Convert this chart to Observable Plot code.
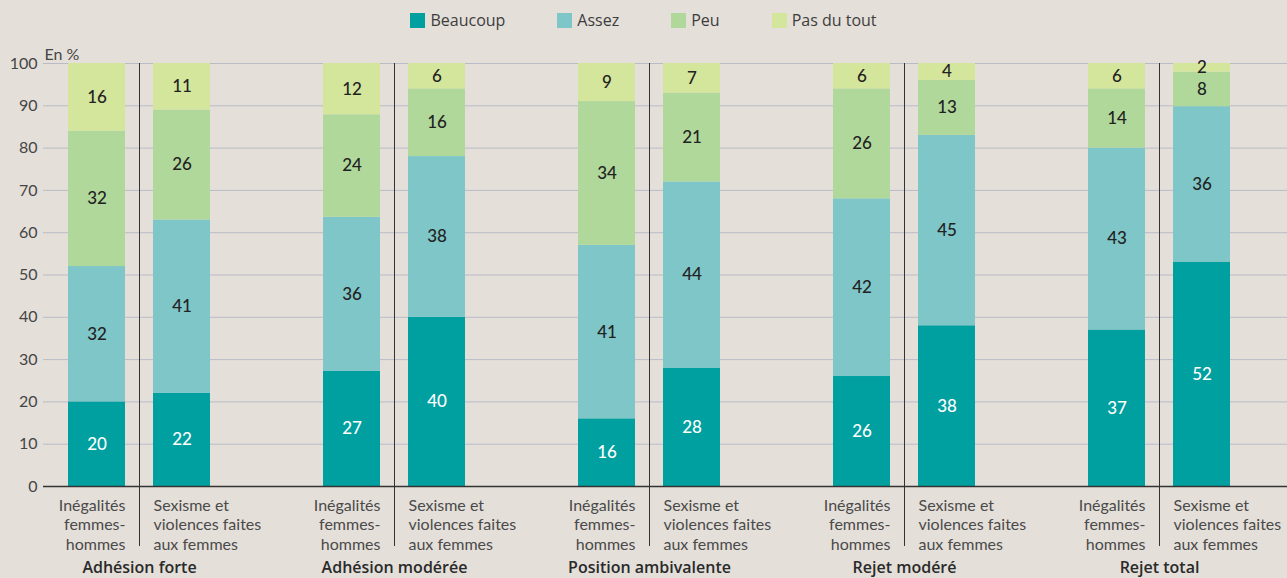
<!DOCTYPE html>
<html><head><meta charset="utf-8">
<script src="https://cdn.jsdelivr.net/npm/d3@7"></script>
<script src="https://cdn.jsdelivr.net/npm/@observablehq/plot@0.6"></script>
<style>
body{margin:0;background:#e4dfd9;font-family:Lato, "Noto Sans", sans-serif;}
#legend{height:40px;display:flex;justify-content:center;align-items:center;gap:52px;font-size:16px;color:#3d3d3d;font-family:"Open Sans", Lato, sans-serif;}
.item{display:flex;align-items:center;gap:5px}
.sw{width:15px;height:15px;display:inline-block}
</style></head><body>
<div id="legend"></div>
<div id="chart"></div>
<script>
const groups = ["Adhésion forte", "Adhésion modérée", "Position ambivalente", "Rejet modéré", "Rejet total"];
const subjects = ["Inégalités\nfemmes-\nhommes", "Sexisme et\nviolences faites\naux femmes"];
const responses = ["Beaucoup", "Assez", "Peu", "Pas du tout"];
const colors = ["#00a0a0", "#7ec6c8", "#b1d89b", "#d4e59c"];
const yTickValues = [0, 10, 20, 30, 40, 50, 60, 70, 80, 90, 100];

const inegalitesBeaucoup  = [20, 27, 16, 26, 37];
const inegalitesAssez     = [32, 36, 41, 42, 43];
const inegalitesPeu       = [32, 24, 34, 26, 14];
const inegalitesPasDuTout = [16, 12, 9, 6, 6];
const sexismeBeaucoup     = [22, 40, 28, 38, 52];
const sexismeAssez        = [41, 38, 44, 45, 36];
const sexismePeu          = [26, 16, 21, 13, 8];
const sexismePasDuTout    = [11, 6, 7, 4, 2];

const series = [
  [inegalitesBeaucoup, inegalitesAssez, inegalitesPeu, inegalitesPasDuTout],
  [sexismeBeaucoup, sexismeAssez, sexismePeu, sexismePasDuTout]
];

const keyOf = (g, s) => g + "|" + s;
const rows = [];
groups.forEach((g, gi) => {
  series.forEach((resp, si) => {
    resp.forEach((arr, ri) => {
      rows.push({key: keyOf(g, si), group: g, subject: si, response: responses[ri], value: arr[gi]});
    });
  });
});
// x domain: two bars per group, plus an empty slot between groups
const xDomain = groups.flatMap((g, i) => i < groups.length - 1 ? [keyOf(g, 0), keyOf(g, 1), keyOf(g, "gap")] : [keyOf(g, 0), keyOf(g, 1)]);

// Legend
const legend = document.getElementById("legend");
responses.forEach((r, i) => {
  const it = document.createElement("div");
  it.className = "item";
  it.innerHTML = `<span class="sw" style="background:${colors[i]}"></span><span>${r}</span>`;
  legend.appendChild(it);
});

const yTicks = yTickValues.map(v => v / 100);
const stackOpts = {x: "key", y: "value", z: "response", offset: "normalize", order: responses};

const chart = Plot.plot({
  width: 1287,
  height: 538,
  marginLeft: 43,
  marginRight: 0,
  marginTop: 23,
  marginBottom: 92,
  style: {background: "transparent", fontFamily: "Lato, 'Noto Sans', sans-serif", fontSize: "16px", color: "#454545", overflow: "visible"},
  x: {domain: xDomain, paddingInner: 0.33, paddingOuter: 0.48, align: 0.3, axis: null},
  y: {domain: [0, 1], ticks: yTicks, tickFormat: d => Math.round(d * 100), tickSize: 0, tickPadding: 6, label: null},
  color: {domain: responses, range: colors},
  marks: [
    Plot.ruleY(yTicks.filter(t => t > 0), {stroke: "#b9bcc7", strokeWidth: 1}),
    Plot.barY(rows, Plot.stackY({...stackOpts, fill: "response"})),
    Plot.text(rows, Plot.stackY({...stackOpts, text: d => d.response === "Beaucoup" ? String(d.value) : "", fill: "white", fontSize: 17, fontWeight: 500})),
    Plot.text(rows, Plot.stackY({...stackOpts, text: d => d.response !== "Beaucoup" ? String(d.value) : "", fill: "#222", fontSize: 17, fontWeight: 500})),
    Plot.ruleX(groups, {x: g => keyOf(g, 1), dx: -42.5, stroke: "#333", strokeWidth: 1, insetBottom: -60}),
    Plot.ruleY([0], {stroke: "#333", strokeWidth: 1.5}),
    Plot.text(groups, {x: g => keyOf(g, 0), frameAnchor: "bottom", text: () => subjects[0], textAnchor: "end", lineAnchor: "top", dx: 28.5, dy: 11, lineHeight: 1.2, fill: "#4a4a4a", fontSize: 16}),
    Plot.text(groups, {x: g => keyOf(g, 1), frameAnchor: "bottom", text: () => subjects[1], textAnchor: "start", lineAnchor: "top", dx: -28.5, dy: 11, lineHeight: 1.2, fill: "#4a4a4a", fontSize: 16}),
    Plot.text(groups, {x: g => keyOf(g, 1), dx: -42.5, frameAnchor: "bottom", text: d => d, lineAnchor: "top", dy: 75, fontWeight: 600, fontFamily: "'Open Sans', Lato, sans-serif", fill: "#2a2a2a", fontSize: 16}),
    Plot.text(["En %"], {frameAnchor: "top-left", text: d => d, textAnchor: "start", dx: 1, dy: -15, fill: "#454545", fontSize: 16})
  ]
});
document.getElementById("chart").appendChild(chart);
</script>
</body></html>
